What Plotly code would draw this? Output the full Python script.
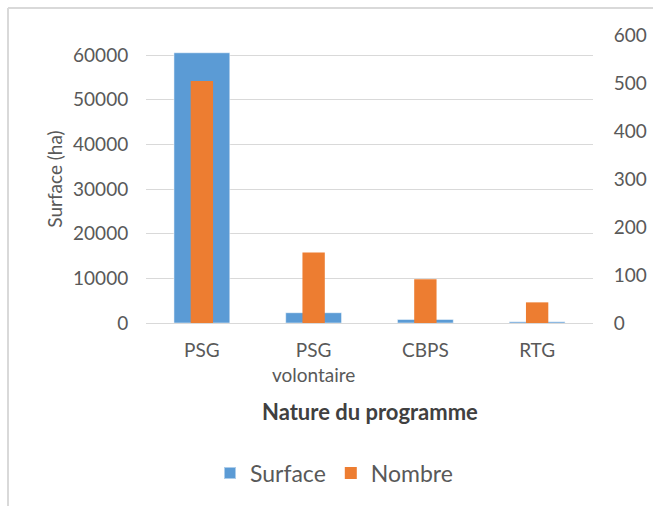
import plotly.graph_objects as go

categories = ["PSG", "PSG<br>volontaire", "CBPS", "RTG"]
surface = [60500, 2300, 800, 300]
nombre = [504, 147, 91, 43]
left_ticks = [0, 10000, 20000, 30000, 40000, 50000, 60000]
left_labels = ["0", "10000", "20000", "30000", "40000", "50000", "60000"]
right_ticks = [0, 100, 200, 300, 400, 500, 600]
right_labels = ["0", "100", "200", "300", "400", "500", "600"]

W, H = 653, 506
L, T = 146, 35
PW, PH = 447, 288
R, B = W - L - PW, H - T - PH

FONT = "Lato"
GREY = "#595959"

def px_x(x):
    return (x - L) / PW

def px_y(y):
    return (T + PH - y) / PH

fig = go.Figure()
fig.add_trace(go.Bar(
    x=categories, y=surface, name="Surface", yaxis="y",
    width=0.5, marker=dict(color="#5B9BD5", line=dict(color="rgba(255,255,255,0.5)", width=1)),
))
fig.add_trace(go.Bar(
    x=categories, y=nombre, name="Nombre", yaxis="y2",
    width=0.2, marker=dict(color="#ED7D31", line=dict(width=0)),
))

fig.update_layout(
    width=W, height=H,
    margin=dict(l=L, r=R, t=T, b=B, pad=0, autoexpand=False),
    paper_bgcolor="white", plot_bgcolor="white",
    barmode="overlay",
    font=dict(family=FONT, color=GREY, size=19),
    xaxis=dict(
        automargin=False,
        showgrid=False, showline=True, linecolor="#d9d9d9", linewidth=1,
        ticks="outside", ticklen=10, tickcolor="rgba(0,0,0,0)",
        tickfont=dict(size=19, color=GREY, family=FONT),
    ),
    yaxis=dict(
        automargin=False,
        range=[0, 64480], tickvals=left_ticks, ticktext=left_labels,
        showgrid=True, gridcolor="#d9d9d9", gridwidth=1,
        zeroline=False, showline=False,
        ticks="outside", ticklen=13, tickcolor="rgba(0,0,0,0)",
        tickfont=dict(size=19, color=GREY, family=FONT),
        title=dict(text="Surface (ha)", font=dict(size=19, color=GREY, family=FONT), standoff=5),
    ),
    yaxis2=dict(
        automargin=False,
        range=[0, 600], tickvals=right_ticks, ticktext=right_labels,
        overlaying="y", side="right",
        showgrid=False, zeroline=False, showline=False,
        ticks="outside", ticklen=16, tickcolor="rgba(0,0,0,0)",
        tickfont=dict(size=19, color=GREY, family=FONT),
    ),
    showlegend=True,
    legend=dict(
        orientation="h", x=px_x(334), y=px_y(473), xanchor="center", yanchor="middle",
        font=dict(size=23, color=GREY, family=FONT), itemsizing="constant",
        traceorder="normal", bgcolor="rgba(0,0,0,0)",
    ),
    annotations=[dict(
        text="<b>Nature du programme</b>", xref="paper", yref="paper",
        x=px_x(370), y=px_y(411), xanchor="center", yanchor="middle",
        showarrow=False, font=dict(size=22, color="#404040", family=FONT),
    )],
    shapes=[
        dict(type="line", xref="paper", yref="paper",
             x0=px_x(8), x1=px_x(W), y0=px_y(8), y1=px_y(8),
             line=dict(color="#d9d9d9", width=2)),
        dict(type="line", xref="paper", yref="paper",
             x0=px_x(8), x1=px_x(8), y0=px_y(8), y1=px_y(H),
             line=dict(color="#d9d9d9", width=2)),
    ],
)

fig.write_html(
    "out.html",
    config={"displayModeBar": False},
    post_script="document.body.style.margin='0';document.body.style.overflow='hidden';",
)
